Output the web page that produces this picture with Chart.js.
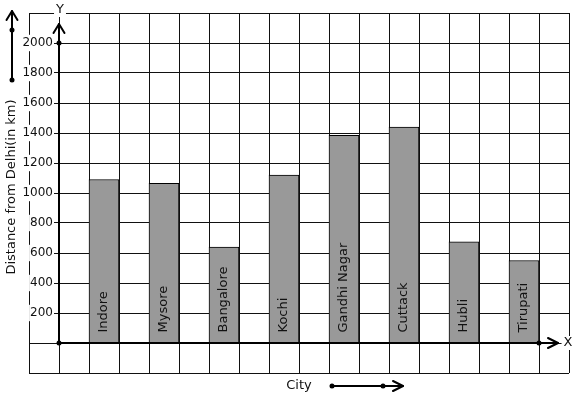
<!DOCTYPE html>
<html>
<head>
<meta charset="utf-8">
<script src="https://cdn.jsdelivr.net/npm/chart.js@4.4.0/dist/chart.umd.min.js"></script>
<style>
html, body { margin: 0; padding: 0; background: #fff; }
#wrap { width: 577px; height: 399px; }
</style>
</head>
<body>
<div id="wrap"><canvas id="myChart" width="577" height="399"></canvas></div>
<script>
// Cidades e distâncias
var cidades = ['Indore', 'Mysore', 'Bangalore', 'Kochi', 'Gandhi Nagar', 'Cuttack', 'Hubli', 'Tirupati'];
var distancias = [1090, 1065, 640, 1120, 1385, 1440, 675, 550];
var rotulosY = [200, 400, 600, 800, 1000, 1200, 1400, 1600, 1800, 2000];

var tituloY = 'Distance from Delhi(in km)';
var tituloX = 'City';

// cada cidade ocupa uma coluna, com uma coluna vazia entre elas
var pontos = cidades.map(function (c, i) {
    return { x: 1.5 + 2 * i, y: distancias[i] };
});

var fonte = 'DejaVu Sans';
var corTexto = '#111';
var corGrade = '#111';

function ponto(ctx, x, y) {
    ctx.beginPath();
    ctx.arc(x, y, 2.5, 0, Math.PI * 2);
    ctx.fill();
}

function seta(ctx, x, y, dir) {
    // dir: 'up' ou 'right'
    ctx.beginPath();
    if (dir === 'up') {
        ctx.moveTo(x - 5.5, y + 9);
        ctx.lineTo(x, y);
        ctx.lineTo(x + 5.5, y + 9);
    } else {
        ctx.moveTo(x - 10, y - 5);
        ctx.lineTo(x, y);
        ctx.lineTo(x - 10, y + 5);
    }
    ctx.stroke();
}

function textoComFundo(ctx, txt, x, y) {
    var w = ctx.measureText(txt).width;
    ctx.fillStyle = '#fff';
    ctx.fillRect(x - w / 2 - 2, y - 7, w + 4, 14);
    ctx.fillStyle = corTexto;
    ctx.fillText(txt, x, y);
}

var desenhoExtra = {
    id: 'desenhoExtra',
    afterDraw: function (chart) {
        var ctx = chart.ctx;
        var area = chart.chartArea;
        var xs = chart.scales.x, ys = chart.scales.y;
        var x0 = Math.round(xs.getPixelForValue(0));
        var y0 = Math.round(ys.getPixelForValue(0));
        var topo = area.top + 11;
        var fim = area.right - 11;

        ctx.save();
        ctx.strokeStyle = '#000';
        ctx.fillStyle = '#000';
        ctx.lineWidth = 2;
        ctx.lineCap = 'round';
        ctx.lineJoin = 'round';

        // eixos
        ctx.beginPath();
        ctx.moveTo(x0, y0);
        ctx.lineTo(x0, topo);
        ctx.moveTo(x0, y0);
        ctx.lineTo(fim, y0);
        ctx.stroke();
        seta(ctx, x0, topo, 'up');
        seta(ctx, fim, y0, 'right');
        ponto(ctx, x0, y0);
        ponto(ctx, x0, ys.getPixelForValue(2000));
        ponto(ctx, xs.getPixelForValue(16), y0);

        // seta decorativa da esquerda
        ctx.beginPath();
        ctx.moveTo(12, 80);
        ctx.lineTo(12, 11);
        ctx.stroke();
        seta(ctx, 12, 11, 'up');
        ponto(ctx, 12, 30);
        ponto(ctx, 12, 80);

        // seta decorativa de baixo
        ctx.beginPath();
        ctx.moveTo(332, 386);
        ctx.lineTo(403, 386);
        ctx.stroke();
        seta(ctx, 403, 386, 'right');
        ponto(ctx, 332, 386);
        ponto(ctx, 383, 386);

        // nomes das cidades dentro das barras
        ctx.font = '13px "' + fonte + '"';
        ctx.fillStyle = corTexto;
        ctx.textAlign = 'left';
        ctx.textBaseline = 'middle';
        var meta = chart.getDatasetMeta(0);
        meta.data.forEach(function (barra, i) {
            ctx.save();
            ctx.translate(barra.x, barra.base - 10);
            ctx.rotate(-Math.PI / 2);
            ctx.fillText(cidades[i], 0, 0);
            ctx.restore();
        });

        // títulos
        ctx.textAlign = 'center';
        ctx.save();
        ctx.translate(12, 187);
        ctx.rotate(-Math.PI / 2);
        ctx.fillText(tituloY, 0, 0);
        ctx.restore();
        ctx.fillText(tituloX, 299, 386);

        textoComFundo(ctx, 'Y', x0 + 1, 10);
        textoComFundo(ctx, 'X', area.right - 1, y0);
        ctx.restore();
    }
};

Chart.defaults.font.family = fonte;

var ctx = document.getElementById('myChart').getContext('2d');
var myChart = new Chart(ctx, {
    type: 'bar',
    data: {
        datasets: [{
            label: tituloY,
            data: pontos,
            backgroundColor: '#999999',
            borderColor: '#000',
            borderWidth: 1,
            barThickness: 30
        }]
    },
    options: {
        responsive: false,
        animation: false,
        layout: { padding: { left: 29, right: 8, top: 13, bottom: 26 } },
        plugins: {
            legend: { display: false },
            tooltip: { enabled: false }
        },
        scales: {
            x: {
                type: 'linear',
                min: -1,
                max: 17,
                offset: false,
                position: { y: 0 },
                border: { display: false },
                grid: { color: corGrade, lineWidth: 1, drawTicks: false, offset: false },
                ticks: { display: false, stepSize: 1 }
            },
            y: {
                type: 'linear',
                min: -200,
                max: 2200,
                // rótulos alinhados um pouco à esquerda do eixo
                position: { x: -0.2 },
                border: { display: false },
                grid: { color: corGrade, lineWidth: 1, drawTicks: false },
                ticks: {
                    stepSize: 200,
                    z: 1,
                    color: corTexto,
                    font: { family: fonte, size: 12 },
                    callback: function (v) {
                        return rotulosY.indexOf(v) >= 0 ? String(v) : '';
                    },
                    showLabelBackdrop: function (c) {
                        return c.tick && rotulosY.indexOf(c.tick.value) >= 0;
                    },
                    backdropColor: '#fff',
                    backdropPadding: { x: 1, y: 1 }
                }
            }
        }
    },
    plugins: [desenhoExtra]
});
</script>
</body>
</html>
